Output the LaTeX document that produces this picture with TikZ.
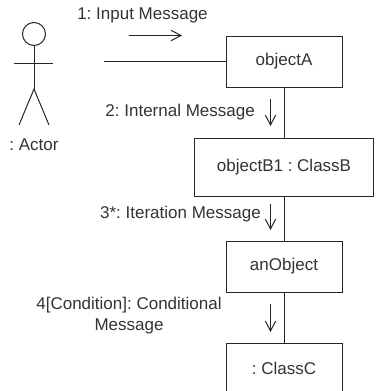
\documentclass[tikz,border=0pt]{standalone}
\usepackage{fontspec}
\setmainfont{Liberation Sans}
\usetikzlibrary{arrows.meta}
\frenchspacing
\tikzset{
  lbl/.style={inner sep=0pt,text=black!80,font=\fontsize{17}{21}\selectfont},
  objbox/.style={draw=black!85,line width=1pt,fill=white,inner sep=0pt,anchor=north west,text=black!80,font=\fontsize{17}{21}\selectfont},
  conn/.style={draw=black!85,line width=1pt},
  msg/.style={draw=black!85,line width=1pt,-{Straight Barb[length=10pt,width=10.5pt,line width=1pt]}}
}
\begin{document}
\begin{tikzpicture}[x=1pt,y=-1pt]
\useasboundingbox (0,0) rectangle (377,391);
\node[objbox,minimum width=116pt,minimum height=51pt] (a) at (225.5,35.5) {objectA};
\node[objbox,minimum width=179pt,minimum height=58pt] (b) at (194,137.5) {objectB1 : ClassB};
\node[objbox,minimum width=116pt,minimum height=51pt] (c) at (225.5,240.5) {anObject};
\node[objbox,minimum width=116pt,minimum height=51pt] (d) at (225.5,342.5) {: ClassC};
\draw[conn] (a) -- (a |- b.north);
\draw[conn] (a |- b.south) -- (c);
\draw[conn] (c) -- (d);
\coordinate (free) at (104,61.5);
\draw[conn] (free) -- (a.west |- free);
\coordinate (m1s) at (129,35.5); \coordinate (m1e) at (182,35.5);
\draw[msg] (m1s) -- (m1e);
\coordinate (m2s) at (270.5,99); \coordinate (m2e) at (270.5,126);
\draw[msg] (m2s) -- (m2e);
\coordinate (m3s) at (270.5,204); \coordinate (m3e) at (270.5,230);
\draw[msg] (m3s) -- (m3e);
\coordinate (m4s) at (270.5,304); \coordinate (m4e) at (270.5,332);
\draw[msg] (m4s) -- (m4e);
% actor
\node[draw=black!85,line width=1pt,circle,minimum size=23pt,inner sep=0pt] (head) at (34,34) {};
\coordinate (hip) at (34,89);
\coordinate (armL) at (14,63.5); \coordinate (armR) at (53,63.5);
\coordinate (footL) at (19,125); \coordinate (footR) at (49,125);
\draw[conn] (head) -- (hip);
\draw[conn] (armL) -- (armR);
\draw[conn] (footL) -- (hip) -- (footR);
\node[lbl] (actor) at (34,144.5) {: Actor};
\node[lbl,anchor=center] (l1) at (142.5,15.5) {1: Input Message};
\node[lbl,anchor=east] (l2) at (255,112.5) {2: Internal Message};
\node[lbl,anchor=east] (l3) at (261,214) {3*: Iteration Message};
\node[lbl,align=center] (l4) at (129,316) {4[Condition]: Conditional\\Message};
\end{tikzpicture}
\end{document}
